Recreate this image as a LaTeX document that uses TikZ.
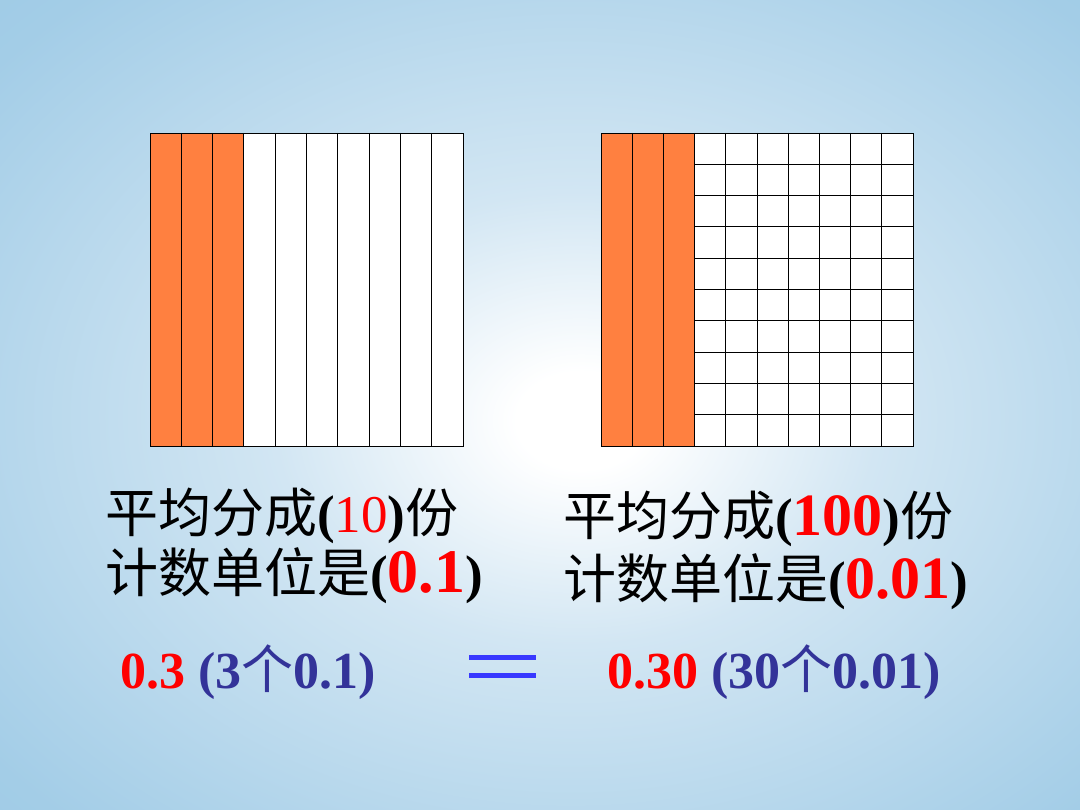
\documentclass[tikz,border=0pt]{standalone}
\usepackage{fontspec}
\setmainfont{Liberation Serif}
\newfontfamily\cjk{Noto Sans CJK SC}
\usetikzlibrary{positioning}
\definecolor{numred}{RGB}{255, 0, 0}
\definecolor{deepblue}{RGB}{51, 51, 153}
\definecolor{eqblue}{RGB}{56, 56, 255}
\definecolor{stripe}{RGB}{255, 128, 64}
\definecolor{skyedge}{RGB}{141, 193, 225}
\definecolor{skymid}{RGB}{163, 205, 231}
\definecolor{skylight}{RGB}{210, 230, 243}
\pgfdeclareradialshading{skyglow}{\pgfpoint{2bp}{-1bp}}{%
  color(0bp)=(white); color(3bp)=(white); color(14bp)=(skylight);
  color(34bp)=(skymid); color(58bp)=(skyedge); color(80bp)=(skyedge)}
\newcommand{\zh}[1]{{\cjk\mdseries #1}}
\newcommand{\rednum}[2]{{\fontsize{#1}{#1}\selectfont\bfseries\textcolor{numred}{#2}}}

\begin{document}
\begin{tikzpicture}[x=1pt, y=-1pt,
  cell/.style={draw=black, line width=0.9pt},
  label/.style={anchor=base west, inner sep=0pt, font=\fontsize{53}{60}\selectfont},
  sum/.style={anchor=base west, inner sep=0pt, font=\fontsize{52}{60}\selectfont\bfseries}
]
  \useasboundingbox (0,0) rectangle (1080,810);
  \shade[shading=skyglow] (0,0) rectangle (1080,810);

  \fill[white] (150,133) rectangle (463,446);
  \fill[stripe] (150,133) rectangle (243.9,446);
  \foreach \i in {1,...,9}
    \draw[cell] ({150+\i*31.3},133) -- ({150+\i*31.3},446);
  \draw[cell] (150,133) rectangle (463,446);

  \fill[white] (601,133) rectangle (913,446);
  \fill[stripe] (601,133) rectangle (694.6,446);
  \foreach \i in {1,...,9}
    \draw[cell] ({601+\i*31.2},133) -- ({601+\i*31.2},446);
  \foreach \j in {1,...,9}
    \draw[cell] (694.6,{133+\j*31.3}) -- (913,{133+\j*31.3});
  \draw[cell] (601,133) rectangle (913,446);

  \node[label] (leftparts) at (105,532)
    {\zh{平均分成}\textbf{(}\textcolor{numred}{10}\textbf{)}\zh{份}};
  \node[label] (leftunit) at (105,592)
    {\zh{计数单位是}\textbf{(}\rednum{62}{0.1}\textbf{)}};
  \node[label] (rightparts) at (563,535)
    {\zh{平均分成}\textbf{(}\rednum{60}{100}\textbf{)}\zh{份}};
  \node[label] (rightunit) at (563,598)
    {\zh{计数单位是}\textbf{(}\rednum{60}{0.01}\textbf{)}};

  \node[sum] (leftsum) at (120,688)
    {\textcolor{numred}{0.3} \textcolor{deepblue}{(3\zh{个}0.1)}};
  \node[sum] (rightsum) at (607,688)
    {\textcolor{numred}{0.30} \textcolor{deepblue}{(30\zh{个}0.01)}};

  \fill[eqblue] (469,655) rectangle (536,660);
  \fill[eqblue] (469,673) rectangle (536,678);
\end{tikzpicture}
\end{document}
